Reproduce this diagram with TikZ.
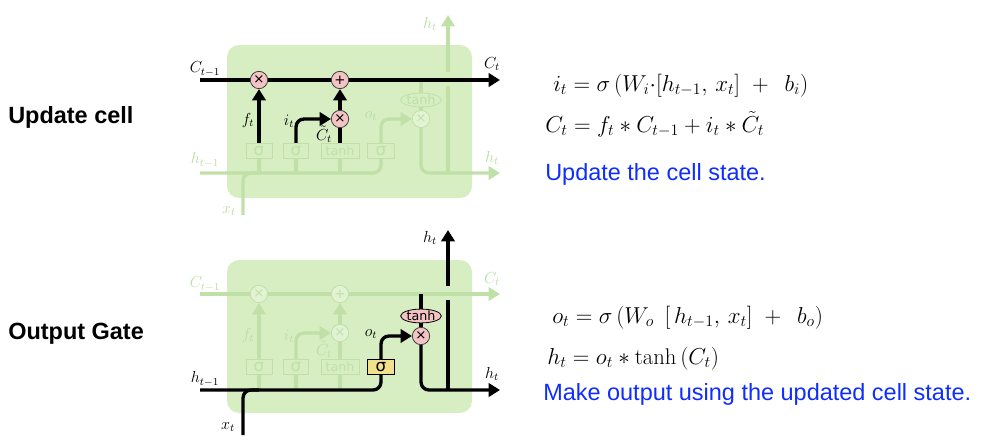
\documentclass[tikz,border=0pt]{standalone}
\usepackage{fontspec}
\newfontfamily\hv{Liberation Sans}
\newfontfamily\dv{DejaVu Sans}
\usetikzlibrary{arrows.meta,shapes.geometric}
\definecolor{boxg}{RGB}{214,238,194}
\definecolor{fade}{RGB}{192,224,168}
\definecolor{fadetxt}{RGB}{186,220,162}
\definecolor{pinkc}{RGB}{244,196,196}
\definecolor{yel}{RGB}{243,224,140}
\definecolor{blu}{RGB}{15,45,255}
\pgfdeclarelayer{bg}
\pgfdeclarelayer{ln}
\pgfsetlayers{bg,ln,main}
\tikzset{
  cellbox/.style={fill=boxg, rounded corners=9pt},
  bl/.style={line width=2.5pt, black},
  fl/.style={line width=2.5pt, fade},
  arr/.style={-{Triangle[length=8.5pt,width=10pt]}},
  rc/.style={rounded corners=6pt},
  opc/.style={circle, draw=black!75, fill=pinkc, line width=0.6pt, minimum size=13pt, inner sep=0pt, font=\dv\fontsize{10}{10}\selectfont},
  fopc/.style={circle, draw=fade, fill=boxg!70!white, line width=0.6pt, minimum size=13pt, inner sep=0pt, text=fade, font=\dv\fontsize{10}{10}\selectfont},
  gate/.style={rectangle, minimum height=11.5pt, inner sep=0pt, line width=0.6pt, font=\dv\fontsize{12.5}{12.5}\selectfont},
  tgate/.style={font=\dv\fontsize{9.5}{9.5}\selectfont},
  fgate/.style={gate, draw=fade, fill=boxg, text=fade},
  bgate/.style={gate, draw=black, fill=yel, text=black},
  tanhe/.style={ellipse, minimum width=28pt, minimum height=10pt, inner sep=0pt, line width=0.6pt, font=\dv\fontsize{9.5}{9.5}\selectfont},
  ftanhe/.style={tanhe, draw=fade, fill=boxg, text=fade},
  btanhe/.style={tanhe, draw=black, fill=pinkc, text=black},
  lab/.style={inner sep=0pt, font=\fontsize{11.5}{12}\selectfont},
  flab/.style={lab, text=fadetxt},
  side/.style={anchor=base west, inner sep=0pt, font=\hv\bfseries\fontsize{17.6}{20}\selectfont},
  eq/.style={anchor=base west, inner sep=0pt, font=\fontsize{17}{20}\selectfont},
  note/.style={anchor=base west, inner sep=0pt, text=blu, font=\hv\fontsize{17.6}{20}\selectfont}
}
\begin{document}
\begin{tikzpicture}[x=0.75pt, y=-0.75pt]
\useasboundingbox (0,0) rectangle (1001,443);

% ---------------- side labels and equations ----------------
\node[side] (lu) at (8,123) {Update cell};
\node[side] (lo) at (8,339) {Output Gate};
\node[eq] (e1) at (553,91) {$i_t = \sigma\,(W_i{\cdot}[h_{t-1},\,x_t]\ +\ \,b_i)$};
\node[eq] (e2) at (545,132) {$C_t = f_t * C_{t-1} + i_t * \tilde{C}_t$};
\node[note] (n1) at (545,180) {Update the cell state.};
\node[eq] (e3) at (552,323) {$o_t = \sigma\,(W_o\ \,[\,h_{t-1},\,x_t]\ +\ \,b_o)$};
\node[eq] (e4) at (547,364) {$h_t = o_t * \tanh\,(C_t)$};
\node[note] (n2) at (543,400) {Make output using the updated cell state.};

% ================= TOP CELL =================
\begin{pgfonlayer}{bg}
\fill[cellbox] (227,45) rectangle (472,198);
\end{pgfonlayer}
\coordinate (aCin) at (200,80);
\coordinate (aCout) at (500,80);
\coordinate (aHin) at (200,173);
\coordinate (aHout) at (500,173);
\coordinate (aX) at (243,215);
\coordinate (aHtop) at (448,15);
\coordinate (aHbot) at (448,173);
\coordinate (aGa) at (448,86);
\coordinate (aGb) at (448,72);
\node[opc] (aM1) at (259,80) {×};
\node[opc] (aA) at (340,80) {+};
\node[opc] (aM2) at (340,119) {×};
\node[fopc] (aM3) at (421,119) {×};
\node[ftanhe] (aT) at (421,100) {tanh};
\node[fgate, minimum width=19.5pt] (aS1) at (259,151) {σ};
\node[fgate, minimum width=19pt] (aS2) at (296,151) {σ};
\node[fgate, tgate, minimum width=28.5pt] (aG) at (340,151) {tanh};
\node[fgate, minimum width=20pt] (aS4) at (381,151) {σ};
\begin{pgfonlayer}{ln}
% faded
\draw[fl, rc] (aHin) -| (aS4.south);
\draw[fl] (aS1.south) -- (aS1.south |- aHin);
\draw[fl] (aS2.south) -- (aS2.south |- aHin);
\draw[fl] (aG.south) -- (aG.south |- aHin);
\draw[fl, rc] (aX) |- (aS1.south |- aHin);
\draw[fl, rc, arr] (aS4.north) |- (aM3.west);
\draw[fl] (aM3 |- aCin) -- (aT.north);
\draw[fl] (aT.south) -- (aM3.north);
\draw[fl, rc, arr] (aM3.south) |- (aHout);
\draw[fl] (aHbot) -- (aGa);
\draw[fl, arr] (aGb) -- (aHtop);
% black
\draw[bl, arr] (aCin) -- (aCout);
\draw[bl, arr] (aS1.north) -- (aM1.south);
\draw[bl, rc, arr] (aS2.north) |- (aM2.west);
\draw[bl] (aG.north) -- (aM2.south);
\draw[bl, arr] (aM2.north) -- (aA.south);
\end{pgfonlayer}
\node[lab] (aLC1) at (205,69) {$C_{t-1}$};
\node[lab] (aLC2) at (492,64) {$C_t$};
\node[lab] (aLf) at (248,120) {$f_t$};
\node[lab] (aLi) at (289,121) {$i_t$};
\node[lab] (aLCt) at (324,134) {$\tilde{C}_t$};
\node[flab] (aLh1) at (205,160) {$h_{t-1}$};
\node[flab] (aLh2) at (492,158) {$h_t$};
\node[flab] (aLh3) at (430,24) {$h_t$};
\node[flab] (aLx) at (229,211) {$x_t$};
\node[flab] (aLo) at (371,116) {$o_t$};

% ================= BOTTOM CELL =================
\begin{pgfonlayer}{bg}
\fill[cellbox] (227,260) rectangle (472,413);
\end{pgfonlayer}
\coordinate (bCin) at (200,294);
\coordinate (bCout) at (500,294);
\coordinate (bHin) at (200,390);
\coordinate (bHout) at (500,390);
\coordinate (bX) at (243,435);
\coordinate (bHtop) at (448,230);
\coordinate (bHbot) at (448,390);
\coordinate (bGa) at (448,300);
\coordinate (bGb) at (448,286);
\node[fopc] (bM1) at (259,294) {×};
\node[fopc] (bA) at (340,294) {+};
\node[fopc] (bM2) at (340,333) {×};
\node[opc] (bM3) at (421,336) {×};
\node[btanhe] (bT) at (421,316) {tanh};
\node[fgate, minimum width=19.5pt] (bS1) at (259,367) {σ};
\node[fgate, minimum width=19pt] (bS2) at (296,367) {σ};
\node[fgate, tgate, minimum width=28.5pt] (bG) at (340,367) {tanh};
\node[bgate, minimum width=20pt] (bS4) at (381,367) {σ};
\begin{pgfonlayer}{ln}
% faded
\draw[fl, arr] (bCin) -- (bCout);
\draw[fl] (bS1.south) -- (bS1.south |- bHin);
\draw[fl] (bS2.south) -- (bS2.south |- bHin);
\draw[fl] (bG.south) -- (bG.south |- bHin);
\draw[fl, arr] (bS1.north) -- (bM1.south);
\draw[fl, rc, arr] (bS2.north) |- (bM2.west);
\draw[fl] (bG.north) -- (bM2.south);
\draw[fl, arr] (bM2.north) -- (bA.south);
% black
\draw[bl, rc] (bHin) -| (bS4.south);
\draw[bl, rc] (bX) |- (bS1.south |- bHin);
\draw[bl, rc, arr] (bS4.north) |- (bM3.west);
\draw[bl] (bM3 |- bCin) -- (bT.north);
\draw[bl] (bT.south) -- (bM3.north);
\draw[bl, rc, arr] (bM3.south) |- (bHout);
\draw[bl] (bHbot) -- (bGa);
\draw[bl, arr] (bGb) -- (bHtop);
\end{pgfonlayer}
\node[flab] (bLC1) at (205,284) {$C_{t-1}$};
\node[flab] (bLC2) at (492,279) {$C_t$};
\node[flab] (bLf) at (248,335) {$f_t$};
\node[flab] (bLi) at (289,336) {$i_t$};
\node[flab] (bLCt) at (324,349) {$\tilde{C}_t$};
\node[lab] (bLh1) at (205,379) {$h_{t-1}$};
\node[lab] (bLh2) at (492,374) {$h_t$};
\node[lab] (bLh3) at (430,238) {$h_t$};
\node[lab] (bLx) at (228,427) {$x_t$};
\node[lab] (bLo) at (371,334) {$o_t$};
\end{tikzpicture}
\end{document}
